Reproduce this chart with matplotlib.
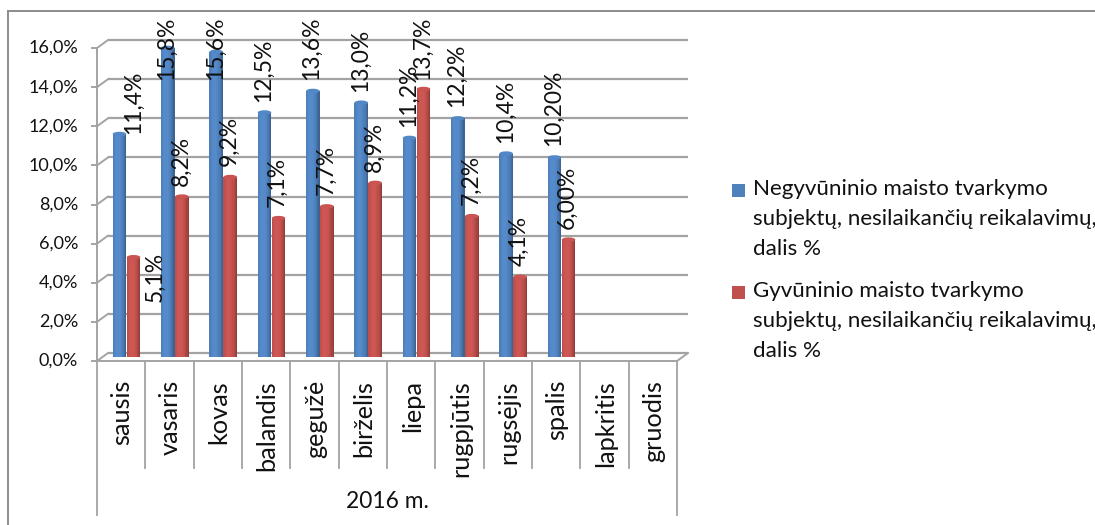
import matplotlib
matplotlib.use("Agg")
import matplotlib.pyplot as plt
from matplotlib.patches import Rectangle, Ellipse
from matplotlib.lines import Line2D
import numpy as np

# ---------------- data ----------------
months = ['sausis', 'vasaris', 'kovas', 'balandis', 'gegužė', 'birželis',
          'liepa', 'rugpjūtis', 'rugsėjis', 'spalis', 'lapkritis', 'gruodis']
non_animal = [11.4, 15.8, 15.6, 12.5, 13.6, 13.0, 11.2, 12.2, 10.4, 10.2, None, None]
animal = [5.1, 8.2, 9.2, 7.1, 7.7, 8.9, 13.7, 7.2, 4.1, 6.0, None, None]
non_animal_labels = ['11,4%', '15,8%', '15,6%', '12,5%', '13,6%', '13,0%',
                     '11,2%', '12,2%', '10,4%', '10,20%']
animal_labels = ['5,1%', '8,2%', '9,2%', '7,1%', '7,7%', '8,9%',
                 '13,7%', '7,2%', '4,1%', '6,00%']
y_ticks = [0, 2, 4, 6, 8, 10, 12, 14, 16]
y_tick_labels = ['0,0%', '2,0%', '4,0%', '6,0%', '8,0%', '10,0%', '12,0%', '14,0%', '16,0%']
group_label = '2016 m.'
series_names = ['Negyvūninio maisto tvarkymo\nsubjektų, nesilaikančių reikalavimų,\ndalis %',
                'Gyvūninio maisto tvarkymo\nsubjektų, nesilaikančių reikalavimų,\ndalis %']

# ---------------- style / layout ----------------
FONT = 'Lato'
plt.rcParams['font.family'] = [FONT, 'DejaVu Sans']
BLUE = np.array([79, 129, 189]) / 255
RED = np.array([192, 80, 77]) / 255
GRID = '#a3a3a3'
TXT = '#111111'
W, H = 1095, 525
X0, X1 = 97, 677          # category axis extent (px)
Y0 = 357                  # bar base (px from top)
PPU = 19.56               # px per 1 %
fig = plt.figure(figsize=(W / 100, H / 100), dpi=100)
ax = fig.add_axes([X0 / W, (H - Y0) / H, (X1 - X0) / W, 16 * PPU / H])
ax.set_xlim(0, 12)
ax.set_ylim(0, 16)
ax.axis('off')
PX = (X1 - X0) / 12.0


def dx(px):
    return px / PX


def dy(px):
    return px / PPU


def v_at(py):
    return (Y0 - py) / PPU


DEPTH_X = dx(11)
DEPTH_Y = dy(4)

# back-wall gridlines + diagonals + ticks
for v in y_ticks:
    ax.plot([DEPTH_X, 12 + DEPTH_X], [v + DEPTH_Y, v + DEPTH_Y], color=GRID, lw=1.6,
            clip_on=False, zorder=1, solid_capstyle='butt')
    ax.plot([0, DEPTH_X], [v - DEPTH_Y, v + DEPTH_Y], color=GRID, lw=1.4, clip_on=False, zorder=1)
    ax.plot([-dx(5), 0], [v - DEPTH_Y, v - DEPTH_Y], color=GRID, lw=1.4, clip_on=False, zorder=1)
for v, t in zip(y_ticks, y_tick_labels):
    ax.text(-dx(19), v - DEPTH_Y, t, ha='right', va='center', fontsize=13,
            color=TXT, clip_on=False)
# front left axis
ax.plot([0, 0], [-DEPTH_Y, 16 - DEPTH_Y], color=GRID, lw=1.4, clip_on=False, zorder=1)
# floor
ax.plot([0, 12], [-DEPTH_Y, -DEPTH_Y], color=GRID, lw=1.4, clip_on=False, zorder=1)
ax.plot([12, 12 + DEPTH_X], [-DEPTH_Y, DEPTH_Y], color=GRID, lw=1.4, clip_on=False, zorder=1)

# category dividers
for i in range(13):
    bottom = v_at(515) if i in (0, 12) else v_at(468)
    ax.plot([i, i], [-DEPTH_Y, bottom], color=GRID, lw=1.3, clip_on=False, zorder=1)
for i, m in enumerate(months):
    ax.text(i + 0.52, v_at(380), m, rotation=90, ha='center', va='top', fontsize=18.2,
            color=TXT, clip_on=False)
ax.text(6, v_at(502), group_label, ha='center', va='center', fontsize=16.4,
        color=TXT, clip_on=False)

# bars (cylinder look using shaded strips)
BAR_W = 0.28
OFFS = [0.466, 0.756]
N_STRIP = 12


def shade(t):
    return 0.72 + 0.36 * (1 - ((t + 0.25) / 1.25) ** 2)


def draw_series(vals, off, base):
    xs = [i + off for i, v in enumerate(vals) if v is not None]
    hs = [v for v in vals if v is not None]
    sw = BAR_W / N_STRIP
    for k in range(N_STRIP):
        t = -1 + (2 * k + 1) / N_STRIP
        c = np.clip(base * shade(t), 0, 1)
        ax.bar([x - BAR_W / 2 + (k + 0.5) * sw for x in xs], hs, width=sw * 1.02,
               color=c, linewidth=0, zorder=3)
    for x, h in zip(xs, hs):
        ax.add_patch(Ellipse((x, h), BAR_W, dy(4.5), color=np.clip(base * 1.05, 0, 1),
                             zorder=4, lw=0))
        ax.add_patch(Ellipse((x, 0), BAR_W, dy(3.5), color=np.clip(base * 0.85, 0, 1),
                             zorder=2.9, lw=0))
    return xs, hs


label_nudge = {(0, 0): (14.5, -11), (1, 0): (22.5, -56)}
anns = []
for si, (vals, labs, base) in enumerate([(non_animal, non_animal_labels, BLUE),
                                          (animal, animal_labels, RED)]):
    xs, hs = draw_series(vals, OFFS[si], base)
    for j, (x, h, lab) in enumerate(zip(xs, hs, labs)):
        ox, oy = -1, 11
        nx, ny = label_nudge.get((si, j), (0, 0))
        a = ax.annotate(lab, xy=(x, h), xytext=(ox + nx, oy + ny), textcoords='offset pixels',
                        rotation=90, ha='center', va='bottom', fontsize=16.5,
                        color=TXT, zorder=6, annotation_clip=False)
        anns.append(a)

fig.canvas.draw()
r = fig.canvas.get_renderer()
for a in anns:
    bb = a.get_window_extent(r)
    top_from_top = H - bb.y1
    if top_from_top < 17:
        sx, sy = a.xyann
        a.xyann = (sx, sy - (17 - top_from_top))

# legend (manual, matching the original layout)
for k, (name, base) in enumerate(zip(series_names, [BLUE, RED])):
    sq_top = [184, 286][k]
    txt_top = [179, 281][k]
    fig.add_artist(Rectangle((732 / W, (H - sq_top - 13) / H), 13 / W, 13 / H,
                             transform=fig.transFigure, color=base, lw=0))
    fig.text(753 / W, (H - txt_top) / H, name, ha='left', va='top',
             fontsize=16.1, linespacing=1.62, color=TXT)

# outer chart border
fig.add_artist(Line2D([8 / W, 1.0], [(H - 11) / H, (H - 11) / H], transform=fig.transFigure,
                      color='#8c8c8c', lw=1.4))
fig.add_artist(Line2D([8 / W, 8 / W], [0, (H - 11) / H], transform=fig.transFigure,
                      color='#8c8c8c', lw=1.4))

fig.savefig('out.png', dpi=100, facecolor='white')
